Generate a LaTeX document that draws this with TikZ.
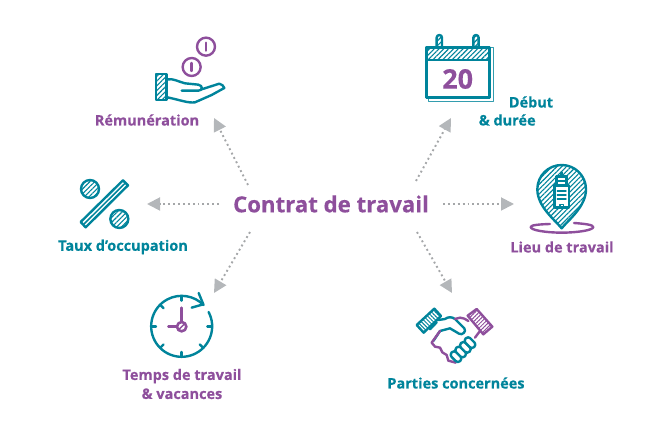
\documentclass[tikz,border=0pt]{standalone}
\usepackage{fontspec}
\setmainfont{Open Sans}[BoldFeatures={FakeBold=0.35}]
\usetikzlibrary{arrows.meta,patterns.meta,calc}
\definecolor{tealc}{HTML}{00849B}
\definecolor{purp}{HTML}{8E4F9C}
\definecolor{tipg}{HTML}{B4B7BA}
\definecolor{dotg}{HTML}{A5A7A9}
\tikzset{
 conn/.style={draw=dotg,line width=1.9pt,dash pattern=on 1.9pt off 3pt,-{Triangle[length=13pt,width=13pt,color=tipg,fill=tipg]},shorten >=0pt},
 lab/.style={font=\bfseries\fontsize{14.5}{19}\selectfont,inner sep=0pt,align=center},
 tl/.style={draw=tealc,line width=2.4pt,line join=round,line cap=round},
 pl/.style={draw=purp,line width=2.4pt,line join=round,line cap=round},
 thn/.style={line width=1.5pt},
 hatcht/.style={pattern={Lines[angle=45,distance=3.4pt,line width=1.1pt]},pattern color=tealc},
 zoomed/.style={x=0.3333pt,y=-0.3333pt},
}
\begin{document}
\begin{tikzpicture}[x=1pt,y=-1pt]
\useasboundingbox (0,0) rectangle (670,435);
\node[font=\bfseries\fontsize{22.2}{28}\selectfont,text=purp,inner sep=0pt] (main) at (331,204) {Contrat de travail};
\coordinate (s1) at (248,185); \coordinate (e1) at (214,118);
\coordinate (s2) at (416,181); \coordinate (e2) at (451,118);
\coordinate (s3) at (219,204); \coordinate (e3) at (147,204);
\coordinate (s4) at (443,204); \coordinate (e4) at (514,204);
\coordinate (s5) at (250,232); \coordinate (e5) at (214,293);
\coordinate (s6) at (417,232); \coordinate (e6) at (452,293);
\foreach \i in {1,...,6} {\draw[conn] (s\i) -- (e\i);}
\node[lab,text=purp] (l1) at (147,120) {Rémunération};
\node[lab,text=tealc,align=left] (l2) at (516,111) {\hspace*{30pt}Début\\[-1pt]\& durée};
\node[lab,text=tealc] (l3) at (123,247) {Taux d’occupation};
\node[lab,text=purp] (l4) at (562,247) {Lieu de travail};
\node[lab,text=purp] (l5) at (182,384) {Temps de travail\\\& vacances};
\node[lab,text=tealc] (l6) at (456,383) {Parties concernées};
% hand
\begin{scope}[shift={(130,20)},zoomed]
 \draw[pl] (228,80) circle (27); \draw[pl] (228,68)--(228,92);
 \draw[pl] (185,141) circle (27); \draw[pl] (185,129)--(185,153);
 \draw[tl,hatcht] (78,162) rectangle (110,240);
 \draw[tl] (112,178) .. controls (130,175) and (145,185) .. (165,190) -- (205,194) .. controls (220,197) and (218,212) .. (205,212) -- (155,212);
 \draw[tl] (215,208) -- (268,191) .. controls (276,192) and (280,198) .. (283,204) -- (245,225) -- (195,247) .. controls (175,250) and (150,240) .. (112,232);
\end{scope}
% calendar
\begin{scope}[shift={(410,20)},zoomed]
 \draw[tl,thn,draw=tealc!80] (238,82) -- (250,82) -- (250,244) -- (55,244) -- (55,232);
 \draw[tl,fill=white] (50,82) rectangle (238,232);
 \fill[hatcht] (50,82) rectangle (238,120);
 \draw[tl] (50,82) rectangle (238,232);
 \draw[tl] (50,120) -- (238,120);
 \draw[tl,hatcht] (80,82) -- (80,53) arc[start angle=180,end angle=360,radius=8] -- (96,82);
 \draw[tl,hatcht] (190,82) -- (190,53) arc[start angle=180,end angle=360,radius=8] -- (206,82);
 \node[font=\bfseries\fontsize{27}{30}\selectfont,text=purp,inner sep=0pt] (n20) at (143,177) {20};
\end{scope}
% percent
\begin{scope}[shift={(50,170)},zoomed]
 \draw[tl,hatcht] (120,57) circle (27);
 \draw[tl,hatcht] (208,147) circle (27);
 \draw[tl] (92,156) -- (219,31) -- (234,46) -- (107,172) -- cycle;
 \draw[tl,thn] (100,164) -- (226,39);
\end{scope}
% pin
\begin{scope}[shift={(500,155)},zoomed]
 \draw[pl] (150,207) .. controls (120,208) and (92,210) .. (92,216) .. controls (92,226) and (140,233) .. (185,233) .. controls (230,233) and (280,226) .. (280,216) .. controls (280,209) and (250,206) .. (222,204);
 \draw[tl,hatcht] (185,220) .. controls (165,195) and (112,155) .. (112,103) .. controls (112,62) and (145,30) .. (185,30) .. controls (225,30) and (258,62) .. (258,103) .. controls (258,155) and (205,195) .. (185,220) -- cycle;
 \fill[white] (160,90) rectangle (210,160);
 \fill[white] (168,62) rectangle (202,90);
 \draw[tl] (163,92) rectangle (207,158);
 \draw[tl] (170,92) -- (170,65) -- (200,65) -- (200,92);
 \draw[tl] (185,65) -- (185,52);
 \draw[tl] (170,78) -- (200,78);
 \draw[tl,thn] (172,108) -- (198,108); \draw[tl,thn] (172,120) -- (198,120); \draw[tl,thn] (172,132) -- (198,132);
 \draw[tl,thn] (180,158) -- (180,148) -- (190,148) -- (190,158);
\end{scope}
% clock
\begin{scope}[shift={(115,285)},zoomed]
 \draw[tl] (200,124) ++(-28:91.5) arc[start angle=-28,end angle=316,radius=91.5];
 \draw[tl] (251,24) -- (265,58) -- (230,68);
 \foreach \a in {0,45,...,315} {\ifnum\a=315\else\draw[tl] ($(200,124)+(\a:91)$) -- ($(200,124)+(\a:77)$);\fi}
 \draw[pl] (200,68) -- (200,110);
 \draw[pl] (160,125) -- (186,125);
 \draw[pl,line width=2.6pt] (200,125) circle (14);
 \draw[pl,thn] (194,131) -- (206,119);
\end{scope}
% handshake
\begin{scope}[shift={(385,295)},zoomed]
 \draw[tl,pattern={Lines[angle=-45,distance=2.8pt,line width=1pt]},pattern color=tealc] (95,90) -- (148,41) -- (168,63) -- (116,113) -- cycle;
 \draw[pl,pattern={Lines[angle=45,distance=2.8pt,line width=1pt]},pattern color=purp] (248,62) -- (275,42) -- (322,95) -- (295,118) -- cycle;
 \draw[tl] (160,75) -- (180,72) .. controls (190,65) and (200,65) .. (210,72) -- (238,100) .. controls (245,110) and (232,122) .. (222,116) -- (195,100) -- (165,108) -- (145,138);
 \draw[tl] (155,82) -- (135,103);
 \draw[pl] (210,72) -- (225,68) .. controls (235,68) and (240,72) .. (250,78);
 \draw[pl] (285,108) -- (270,128);
 \draw[pl] (165,108) -- (140,143) -- (150,155) -- (165,158) -- (172,172) -- (185,180) -- (190,197) -- (212,203);
 \foreach \x/\y in {213/185,227/171,241/157,255/143}
   {\draw[tl,fill=white,rounded corners=3pt,shift={(\x,\y)},rotate=-45] (-18,-10) rectangle (18,10);}
\end{scope}
\end{tikzpicture}
\end{document}
